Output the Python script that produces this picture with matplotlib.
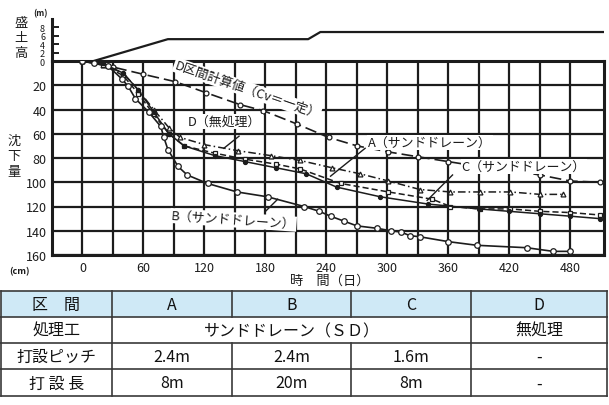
import matplotlib
matplotlib.use("Agg")
import matplotlib.pyplot as plt
from matplotlib.patches import Rectangle

plt.rcParams['font.family'] = ['Noto Sans CJK JP', 'DejaVu Sans']

W, H = 609, 406
INK = '#1c1c1c'

# ---- data -------------------------------------------------------------
# embankment height (m) versus elapsed time (days)
fill_days = [11, 84, 222, 234, 513]
fill_height = [0.0, 5.2, 5.2, 6.9, 6.9]

# settlement (cm) versus elapsed time (days)
dcalc_days = [0, 30, 60, 91, 121, 155, 178, 211, 242, 270, 301, 330, 360, 390, 420, 450, 480, 509]
dcalc_cm = [0, 5, 11, 17, 26, 36, 41, 52, 63, 70, 75, 79, 83, 87, 90, 94, 99, 100]

a_days = [0, 20, 40, 55, 70, 85, 96, 120, 153, 185, 214, 245, 273, 301, 332, 362, 391, 421, 450, 473]
a_cm = [0, 3, 10, 24, 40, 55, 63, 69, 74, 78, 82, 88, 93, 99, 106, 108, 108, 108, 110, 110]

c_days = [0, 20, 40, 55, 70, 85, 100, 130, 160, 190, 214, 254, 301, 344, 362, 391, 421, 450, 480, 509]
c_cm = [0, 3, 12, 27, 44, 60, 70, 76, 81, 85, 89, 101, 108, 114, 120, 122, 122, 124, 125, 127]

d_days = [0, 20, 40, 55, 70, 85, 100, 130, 160, 190, 220, 250, 293, 340, 390, 420, 450, 480, 509]
d_cm = [0, 2, 10, 24, 42, 60, 70, 78, 83, 88, 93, 104, 112, 118, 122, 124, 126, 128, 130]

b_days = [0, 11, 25, 39, 45, 52, 65, 77, 80, 84, 94, 103, 123, 152, 182, 218, 233, 244, 257,
          270, 290, 303, 313, 322, 332, 360, 388, 437, 463, 480]
b_cm = [0, 2, 4, 15, 21, 31, 42, 54, 63, 73, 87, 94, 101, 108, 112, 120, 124, 128, 132,
        136, 138, 140, 141, 144, 145, 149, 152, 154, 157, 157]

x_ticks = [0, 60, 120, 180, 240, 300, 360, 420, 480]
y_ticks = [0, 20, 40, 60, 80, 100, 120, 140, 160]
h_ticks = [2, 4, 6, 8]

table_rows = [
    ['区　間', 'A', 'B', 'C', 'D'],
    ['処理工', 'サンドドレーン（ＳＤ）', None, None, '無処理'],
    ['打設ピッチ', '2.4m', '2.4m', '1.6m', '-'],
    ['打 設 長', '8m', '20m', '8m', '-'],
]

# ---- figure -----------------------------------------------------------
fig = plt.figure(figsize=(W / 100, H / 100), dpi=100)
fig.patch.set_facecolor('white')


def fx(px):
    return px / W


def fy(py):
    return 1 - py / H


# overlay axes in pixel coordinates for free text and the table
pax = fig.add_axes([0, 0, 1, 1])
pax.set_xlim(0, W)
pax.set_ylim(H, 0)
pax.axis('off')

# settlement panel
ax = fig.add_axes([fx(52), fy(256), fx(604) - fx(52), fy(62) - fy(256)])
ax.patch.set_alpha(0)
ax.set_xlim(-30, 513)
ax.set_ylim(160, 0)
ax.set_xticks(x_ticks)
ax.set_xticks(list(range(30, 481, 60)), minor=True)
ax.set_yticks(y_ticks)
ax.grid(True, which='both', color=INK, lw=1.6)
ax.tick_params(which='both', length=0, labelsize=9, colors=INK, pad=4)
ax.set_yticklabels([''] + [str(v) for v in y_ticks[1:]])
for s in ax.spines.values():
    s.set_color(INK)
    s.set_linewidth(2.2)

# embankment panel
hx = fig.add_axes([fx(52), fy(62), fx(604) - fx(52), fy(20) - fy(62)])
hx.patch.set_alpha(0)
hx.set_xlim(-30, 513)
hx.set_ylim(0, 10)
for k in ('top', 'right', 'bottom'):
    hx.spines[k].set_visible(False)
hx.spines['left'].set_linewidth(2.2)
hx.spines['left'].set_color(INK)
hx.set_xticks([])
hx.set_yticks([0] + h_ticks)
hx.set_yticklabels(['0'] + [str(v) for v in h_ticks])
hx.tick_params(axis='y', direction='in', length=5, width=1.4, labelsize=6.5, colors=INK, pad=5)
hx.plot(fill_days, fill_height, color=INK, lw=1.6, solid_capstyle='butt')

# settlement curves
ax.plot(dcalc_days, dcalc_cm, color=INK, lw=1.2, dashes=(7, 3), marker='o', ms=3.5,
        mfc='white', mec=INK, mew=0.9, zorder=3)
ax.plot(a_days, a_cm, color=INK, lw=1.1, dashes=(5, 2, 1, 2), marker='^', ms=3.5,
        mfc='white', mec=INK, mew=0.9, zorder=3)
ax.plot(c_days, c_cm, color=INK, lw=1.1, dashes=(4, 2), marker='s', ms=2.5,
        mfc='white', mec=INK, mew=0.9, zorder=3)
ax.plot(d_days, d_cm, color=INK, lw=1.1, marker='o', ms=2.8, mfc=INK, mec=INK, zorder=3)
ax.plot(b_days, b_cm, color=INK, lw=1.2, marker='o', ms=4, mfc='white', mec=INK, mew=0.9,
        zorder=3)

# curve labels with leaders
box = dict(boxstyle='square,pad=0.08', facecolor='white', edgecolor='none')
lab = dict(fontsize=9.3, color=INK, bbox=box, zorder=4)
ax.text(89, 8, 'D区間計算値（Cv＝一定）', rotation=-19, ha='left', va='bottom',
        rotation_mode='anchor', **lab)
ax.text(104, 50, 'D（無処理）', ha='left', va='center', **lab)
ax.plot([139, 154], [72, 62], color=INK, lw=1, zorder=4)
ax.text(281, 67, 'A（サンドドレーン）', ha='left', va='center', **lab)
ax.plot([244, 278], [95, 72], color=INK, lw=1, zorder=4)
ax.text(373, 87, 'C（サンドドレーン）', ha='left', va='center', **lab)
ax.plot([339, 364], [115, 94], color=INK, lw=1, zorder=4)
ax.text(87, 131, 'B（サンドドレーン）', ha='left', va='center', rotation=-4, **lab)
ax.plot([180, 192], [124, 114], color=INK, lw=1, zorder=4)

# axis captions
pax.text(40, 14, '(m)', fontsize=6, ha='center', va='center', color=INK, weight='bold')
for i, ch in enumerate('盛土高'):
    pax.text(21, 23 + i * 15, ch, fontsize=9.5, ha='center', va='center', color=INK)
for i, ch in enumerate('沈下量'):
    pax.text(14, 141 + i * 16, ch, fontsize=9.5, ha='center', va='center', color=INK)
pax.text(20, 272, '(cm)', fontsize=6.5, ha='center', va='center', color=INK, weight='bold')
pax.text(330, 281, '時　間（日）', fontsize=9.5, ha='center', va='center', color=INK)

# ---- table ------------------------------------------------------------
col_x = [1, 112, 232, 351, 471, 607]
row_y = [292, 318, 344, 370, 397]
pax.add_patch(Rectangle((col_x[0], row_y[0]), col_x[-1] - col_x[0], row_y[1] - row_y[0],
                        facecolor='#cfe9f6', edgecolor='none'))
tb_line = dict(color='#3a3a3a', lw=1.2)
for y in row_y:
    pax.plot([col_x[0], col_x[-1]], [y, y], **tb_line)
for j, x in enumerate(col_x):
    for i in range(4):
        if i == 1 and j in (2, 3):
            continue
        pax.plot([x, x], [row_y[i], row_y[i + 1]], **tb_line)
for i, row in enumerate(table_rows):
    yc = (row_y[i] + row_y[i + 1]) / 2
    for j, txt in enumerate(row):
        if txt is None:
            continue
        if i == 1 and j == 1:
            xc = (col_x[1] + col_x[4]) / 2
        else:
            xc = (col_x[j] + col_x[j + 1]) / 2
        pax.text(xc, yc + 0.5, txt, fontsize=11.5, ha='center', va='center', color='#111111')

fig.savefig('out.png', dpi=100)
